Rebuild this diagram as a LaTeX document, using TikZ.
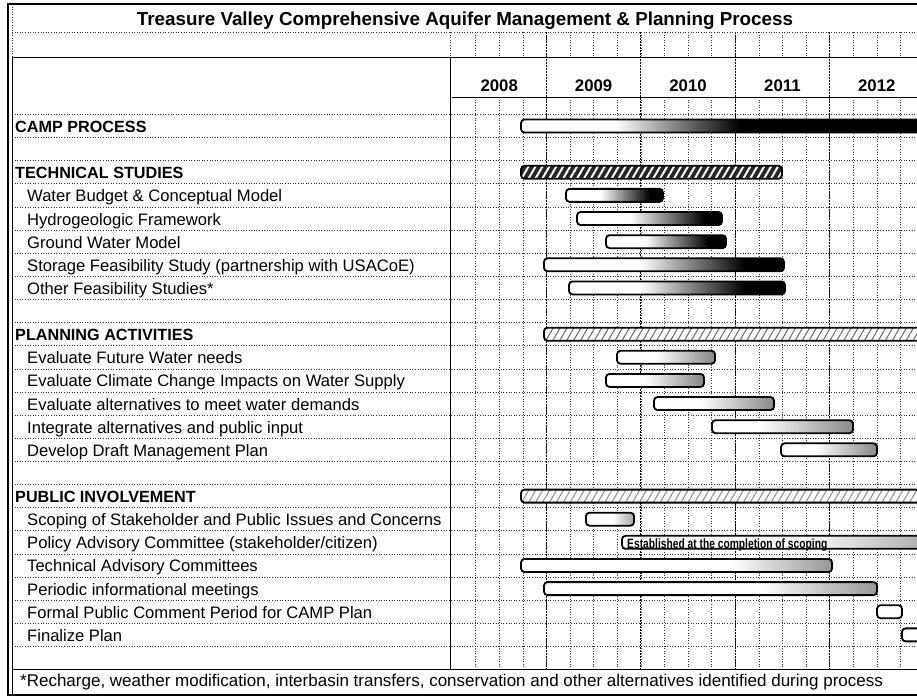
\documentclass[tikz,border=0pt]{standalone}
\usepackage{fontspec}
\setmainfont{Liberation Sans}
\newfontfamily\narrowfont[FakeStretch=0.76]{Liberation Sans}
\usetikzlibrary{patterns.meta}

% one bar of the chart: row, start, end, fade start, fade end, colour
\newcommand{\ganttbar}[6]{%
  \pgfmathsetmacro{\yc}{126+23.13*#1}
  \begin{scope}
    \clip[rounded corners=3.5pt] (#2,\yc-6.5) rectangle (#3,\yc+6.5);
    \fill[white] (#2,\yc-7) rectangle (#3,\yc+7);
    \shade[left color=white,right color=#6] (#4,\yc-7) rectangle (#5,\yc+7);
    \fill[#6] (#5,\yc-7) rectangle (#3,\yc+7);
  \end{scope}
  \draw[bar] (#2,\yc-6.5) rectangle (#3,\yc+6.5);}

\begin{document}
\begin{tikzpicture}[x=1pt,y=-1pt]
  \tikzstyle{heading}=[anchor=base west,inner sep=0pt,font=\fontsize{16.2}{18}\selectfont\bfseries]
  \tikzstyle{task}=[anchor=base west,inner sep=0pt,font=\fontsize{16.6}{18}\selectfont]
  \tikzstyle{year}=[anchor=base,inner sep=0pt,font=\fontsize{16.8}{18}\selectfont\bfseries]
  \tikzstyle{bar}=[draw,line width=1.8pt,rounded corners=3.5pt]
  \tikzstyle{grid}=[dotted,line width=0.6pt,black!80]
  \tikzstyle{yearline}=[dash pattern=on 2pt off 1pt,line width=0.9pt]
  \tikzstyle{hatch}=[bar,preaction={fill=white},pattern={Lines[angle=60,distance=6pt,line width=1pt]},pattern color=black!60]

  \useasboundingbox (0,0) rectangle (917,698);
  \clip (0,0) rectangle (917,698);

  % grid
  \foreach \i in {0,...,23} {
    \pgfmathsetmacro{\gy}{114.4+23.13*\i}
    \draw[grid] (12,\gy) -- (930,\gy);
  }
  \foreach \k in {1,...,19} {
    \pgfmathsetmacro{\gx}{452+23.6*\k}
    \draw[grid] (\gx,97) -- (\gx,669.6);
    \draw[grid] (\gx,32) -- (\gx,57);
  }
  \foreach \k in {1,...,4}
    \draw[yearline] (452+94.4*\k,32) -- (452+94.4*\k,669.6);

  % frame
  \draw[line width=2.5pt] (930,4) -- (8,4) -- (8,695) -- (930,695);
  \draw[grid] (12,32) -- (930,32);
  \draw[grid] (12,4) -- (12,57);
  \draw[grid] (450,32) -- (450,57);
  \draw[thick] (12,695) -- (12,57) -- (930,57);
  \draw[thick] (450,57) -- (450,669.6);
  \draw[thick] (452,97) -- (930,97);
  \draw[thick] (12,669.6) -- (930,669.6);

  % header
  \node[anchor=base,inner sep=0pt,font=\fontsize{18.8}{20}\selectfont\bfseries] (title) at (465,26)
    {Treasure Valley Comprehensive Aquifer Management \& Planning Process};
  \foreach \k/\yr in {0/2008,1/2009,2/2010,3/2011,4/2012}
    \node[year] (y\yr) at (499.2+94.4*\k,92) {\yr};

  % row labels
  \node[heading] (camp) at (15,132.5) {CAMP PROCESS};
  \node[heading] (tech) at (15,132.5+23.13*2) {TECHNICAL STUDIES};
  \node[heading] (plan) at (15,132.5+23.13*9) {PLANNING ACTIVITIES};
  \node[heading] (public) at (15,132.5+23.13*16) {PUBLIC INVOLVEMENT};
  \foreach \i/\name/\txt in {3/budget/{Water Budget \& Conceptual Model},
      4/hydro/{Hydrogeologic Framework},
      5/gwmodel/{Ground Water Model},
      6/storage/{Storage Feasibility Study (partnership with USACoE)},
      7/other/{Other Feasibility Studies*},
      10/needs/{Evaluate Future Water needs},
      11/climate/{Evaluate Climate Change Impacts on Water Supply},
      12/alts/{Evaluate alternatives to meet water demands},
      13/integrate/{Integrate alternatives and public input},
      14/draft/{Develop Draft Management Plan},
      17/scoping/{Scoping of Stakeholder and Public Issues and Concerns},
      18/policy/{Policy Advisory Committee (stakeholder/citizen)},
      19/techadv/{Technical Advisory Committees},
      20/meetings/{Periodic informational meetings},
      21/comment/{Formal Public Comment Period for CAMP Plan},
      22/finalize/{Finalize Plan}}
    \node[task] (\name) at (27,132.5+23.13*\i) {\txt};

  % bars
  \ganttbar{0}{521}{940}{615}{740}{black}
  \draw[hatch,preaction={fill=black!85},pattern color=white,pattern={Lines[angle=60,distance=6pt,line width=2pt]}]
    (521,172.3-6.5) rectangle (782,172.3+6.5);
  \ganttbar{3}{566}{663}{600}{650}{black}
  \ganttbar{4}{577}{722}{630}{705}{black}
  \ganttbar{5}{606}{726}{645}{708}{black}
  \ganttbar{6}{544}{784}{640}{745}{black}
  \ganttbar{7}{569}{785}{640}{745}{black}
  \draw[hatch] (544,334.2-6.5) rectangle (940,334.2+6.5);
  \ganttbar{10}{617}{715}{655}{712}{black!45}
  \ganttbar{11}{606}{704}{645}{700}{black!45}
  \ganttbar{12}{654}{774}{700}{772}{black!45}
  \ganttbar{13}{712}{853}{760}{851}{black!45}
  \ganttbar{14}{781}{877}{815}{875}{black!45}
  \draw[hatch,pattern color=black!45] (521,496.1-6.5) rectangle (940,496.1+6.5);
  \ganttbar{17}{586}{634}{612}{634}{black!35}
  \ganttbar{18}{622}{940}{800}{917}{black!30}
  \ganttbar{19}{521}{832}{730}{830}{black!40}
  \ganttbar{20}{544}{877}{760}{875}{black!40}
  \ganttbar{21}{877}{902}{900}{902}{white}
  \ganttbar{22}{902}{935}{930}{935}{white}
  \node[anchor=base west,inner sep=0pt,font=\narrowfont\fontsize{13.5}{15}\selectfont\bfseries] (scopenote) at (627,548)
    {Established at the completion of scoping};

  % footnote
  \node[task,font=\fontsize{17}{18}\selectfont] (note) at (20,686)
    {*Recharge, weather modification, interbasin transfers, conservation and other alternatives identified during process};
\end{tikzpicture}
\end{document}
